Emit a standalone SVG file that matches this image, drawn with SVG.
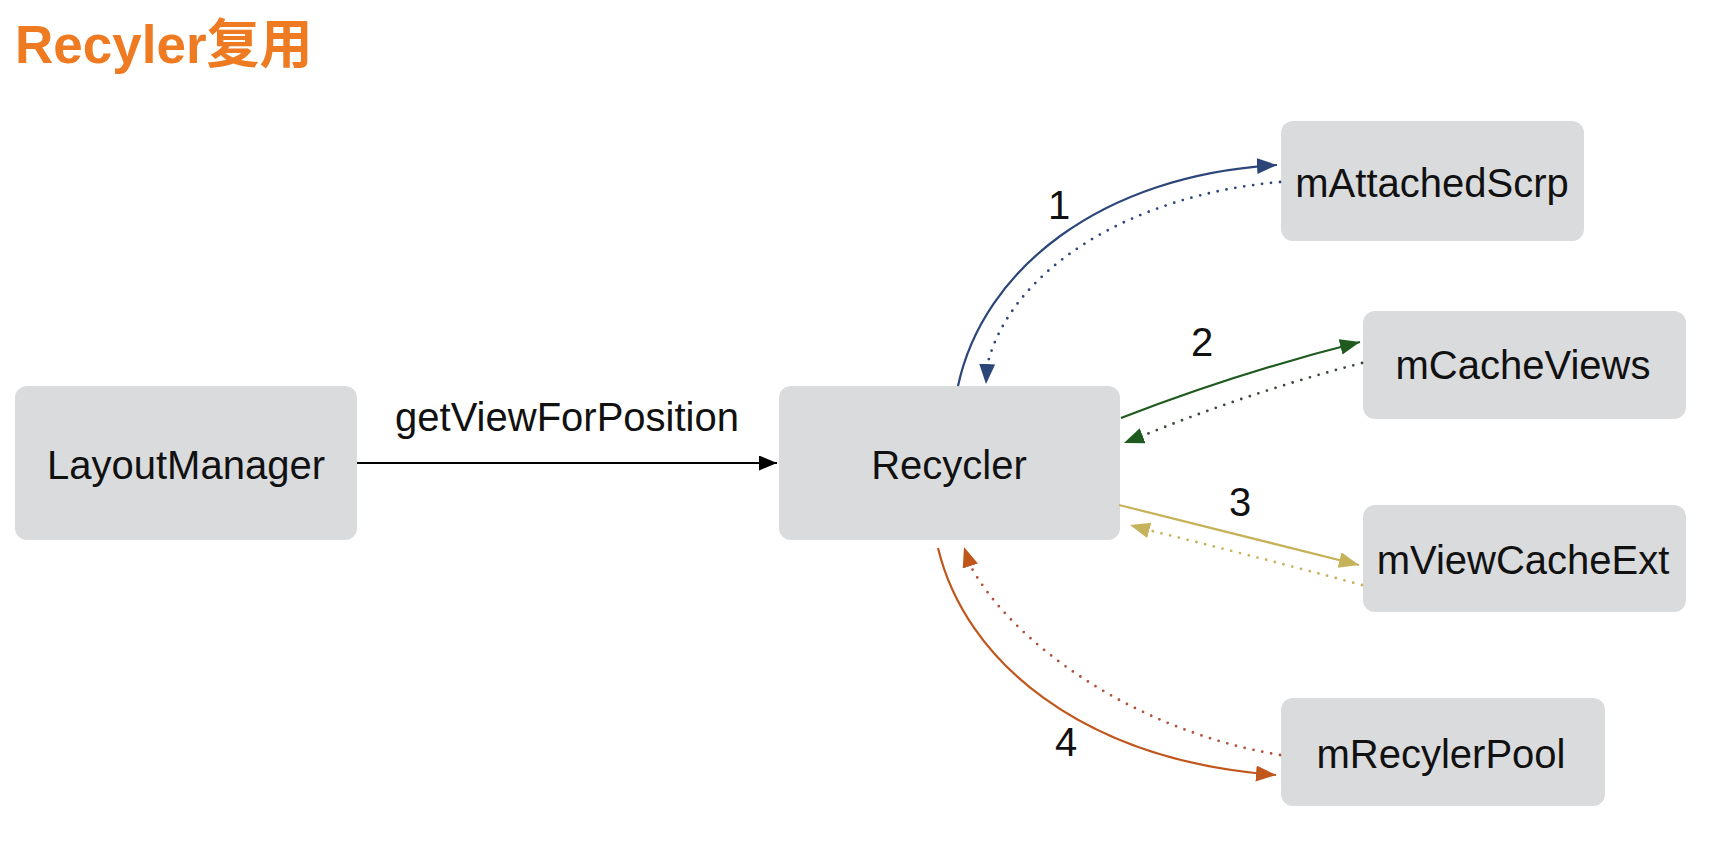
<svg xmlns="http://www.w3.org/2000/svg" width="1721" height="846" viewBox="0 0 1721 846">
<style>
.box{fill:#dadbdd;}
.t{font-family:"Liberation Sans",Arial,sans-serif;font-size:40px;fill:#111;text-anchor:middle;}
.title{font-family:"Liberation Sans","Noto Sans CJK SC",sans-serif;font-size:53px;font-weight:bold;fill:#ee7a22;}
.ln{fill:none;stroke-width:2.2;}
.dot{fill:none;stroke-width:2.8;stroke-dasharray:0 9;stroke-linecap:round;}
</style>
<defs>
<marker id="aK" markerUnits="userSpaceOnUse" markerWidth="20" markerHeight="16" refX="18" refY="7.5" orient="auto"><path d="M0,0 L18,7.5 L0,15 Z" fill="#000"/></marker>
<marker id="aB" markerUnits="userSpaceOnUse" markerWidth="22" markerHeight="18" refX="20" refY="8" orient="auto"><path d="M0,0 L20,8 L0,16 Z" fill="#2c4679"/></marker>
<marker id="aG" markerUnits="userSpaceOnUse" markerWidth="22" markerHeight="18" refX="20" refY="8" orient="auto"><path d="M0,0 L20,8 L0,16 Z" fill="#1f5a1f"/></marker>
<marker id="aY" markerUnits="userSpaceOnUse" markerWidth="22" markerHeight="18" refX="20" refY="8" orient="auto"><path d="M0,0 L20,8 L0,16 Z" fill="#c6b25a"/></marker>
<marker id="aO" markerUnits="userSpaceOnUse" markerWidth="22" markerHeight="18" refX="20" refY="8" orient="auto"><path d="M0,0 L20,8 L0,16 Z" fill="#c0561c"/></marker>
</defs>
<text class="title" x="15" y="63">Recyler复用</text>
<g id="layoutmanager"><rect class="box" x="15" y="386" width="342" height="154" rx="12"/><text class="t" x="186" y="479">LayoutManager</text></g>
<g id="recycler"><rect class="box" x="779" y="386" width="341" height="154" rx="12"/><text class="t" x="949" y="479">Recycler</text></g>
<g id="mattachedscrp"><rect class="box" x="1281" y="121" width="303" height="120" rx="12"/><text class="t" x="1432" y="197">mAttachedScrp</text></g>
<g id="mcacheviews"><rect class="box" x="1363" y="311" width="323" height="108" rx="12"/><text class="t" x="1523" y="379">mCacheViews</text></g>
<g id="mviewcacheext"><rect class="box" x="1363" y="505" width="323" height="107" rx="12"/><text class="t" x="1523" y="574">mViewCacheExt</text></g>
<g id="mrecylerpool"><rect class="box" x="1281" y="698" width="324" height="108" rx="12"/><text class="t" x="1441" y="768">mRecylerPool</text></g>
<g id="connectors">
<path class="ln" stroke="#000" d="M357,463 L777,463" marker-end="url(#aK)"/>
<text class="t" x="567" y="431">getViewForPosition</text>
<path class="ln" stroke="#2c4679" d="M958,386 C983,270 1100,175 1277,165" marker-end="url(#aB)"/>
<path class="dot" stroke="#2c4679" d="M1280,182 C1130,195 1010,270 987,366"/>
<path class="ln" stroke="none" d="M987,366 L986,384" marker-end="url(#aB)"/>
<text class="t" x="1059" y="219">1</text>
<path class="ln" stroke="#1f5a1f" d="M1121,418 Q1240,372 1360,342" marker-end="url(#aG)"/>
<path class="dot" stroke="#3a4a3a" d="M1362,363 Q1250,392 1142,436"/>
<path class="ln" stroke="none" d="M1142,436 L1124,443" marker-end="url(#aG)"/>
<text class="t" x="1202" y="356">2</text>
<path class="ln" stroke="#c6b25a" d="M1119,505 Q1240,535 1359,565" marker-end="url(#aY)"/>
<path class="dot" stroke="#c6b25a" d="M1362,585 Q1250,555 1148,530"/>
<path class="ln" stroke="none" d="M1148,530 L1130,525" marker-end="url(#aY)"/>
<text class="t" x="1240" y="516">3</text>
<path class="ln" stroke="#c0561c" d="M938,548 C965,660 1080,760 1276,775" marker-end="url(#aO)"/>
<path class="dot" stroke="#b0503a" d="M1280,755 C1130,730 1010,640 970,565"/>
<path class="ln" stroke="none" d="M970,565 L964,547" marker-end="url(#aO)"/>
<text class="t" x="1066" y="756">4</text>
</g>
</svg>
